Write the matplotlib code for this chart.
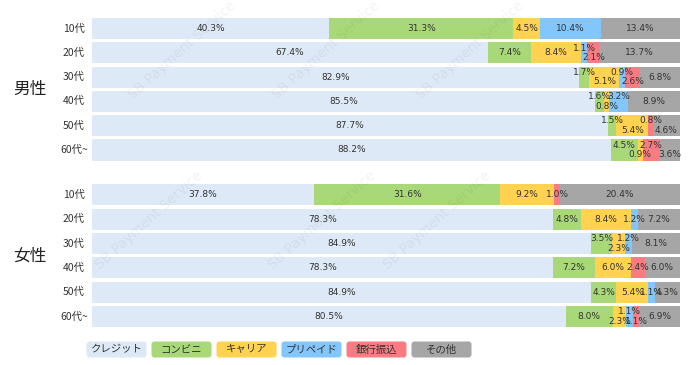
import numpy as np
import matplotlib
matplotlib.use('Agg')
import matplotlib.pyplot as plt
from matplotlib.patches import FancyBboxPatch
from matplotlib.transforms import blended_transform_factory

plt.rcParams['font.family'] = ['Noto Sans CJK JP', 'DejaVu Sans']

######################################
### DATA #############################
######################################
ages = ['10代', '20代', '30代', '40代', '50代', '60代~']
groups = ['男性', '女性']
methods = ['クレジット', 'コンビニ', 'キャリア', 'プリペイド', '銀行振込', 'その他']

# 男性 (%)
male_credit  = [40.3, 67.4, 82.9, 85.5, 87.7, 88.2]
male_conv    = [31.3, 7.4, 1.7, 1.6, 1.5, 4.5]
male_carrier = [4.5, 8.4, 5.1, 0.8, 5.4, 0.9]
male_prepaid = [10.4, 1.1, 0.9, 3.2, 0.0, 0.0]
male_bank    = [0.0, 2.1, 2.6, 0.0, 0.8, 2.7]
male_other   = [13.4, 13.7, 6.8, 8.9, 4.6, 3.6]

# 女性 (%)
female_credit  = [37.8, 78.3, 84.9, 78.3, 84.9, 80.5]
female_conv    = [31.6, 4.8, 3.5, 7.2, 4.3, 8.0]
female_carrier = [9.2, 8.4, 2.3, 6.0, 5.4, 2.3]
female_prepaid = [0.0, 1.2, 1.2, 0.0, 1.1, 1.1]
female_bank    = [1.0, 0.0, 0.0, 2.4, 0.0, 1.1]
female_other   = [20.4, 7.2, 8.1, 6.0, 4.3, 6.9]

# label placement for small segments: c = centre, u = above, d = below
male_lbl = ['cccccc', 'cccudc', 'cududc', 'cuducc', 'cudcud', 'cudcud']
female_lbl = ['cccccc', 'cccccc', 'cuducc', 'cccccc', 'cccccc', 'ccdudc']

colors = ['#dde9f6', '#a9d879', '#ffd34f', '#82c6fb', '#f97c82', '#a6a6a6']
txt_col = '#333333'

male_tbl = np.array([male_credit, male_conv, male_carrier, male_prepaid, male_bank, male_other]).T
female_tbl = np.array([female_credit, female_conv, female_carrier, female_prepaid, female_bank, female_other]).T

######################################
### PLOT #############################
######################################
W, H = 700, 365
fig = plt.figure(figsize=(W / 100, H / 100), dpi=100)

px_unit = 24.3          # pixels per row
y_top = -28.5 / px_unit
ax = fig.add_axes([92 / W, 0, 588 / W, 1])
ax.set_xlim(0, 100)
ax.set_ylim(y_top + H / px_unit, y_top)
ax.axis('off')

female_offset = 6.85
lab_tr = blended_transform_factory(fig.transFigure, ax.transData)

for g, (tbl, lbl, off) in enumerate([(male_tbl, male_lbl, 0.0), (female_tbl, female_lbl, female_offset)]):
    ypos = np.arange(len(ages)) + off
    pct = tbl / tbl.sum(axis=1, keepdims=True) * 100
    left = np.zeros(len(ages))
    for j in range(len(methods)):
        ax.barh(ypos, pct[:, j], left=left, height=0.865, color=colors[j], linewidth=0)
        for i in range(len(ages)):
            v = tbl[i, j]
            if v <= 0:
                continue
            code = lbl[i][j]
            dy = {'c': 0, 'u': 3.4, 'd': -3.4}[code]
            ax.annotate(f'{v:.1f}%', (left[i] + pct[i, j] / 2, ypos[i]), xytext=(0, dy),
                        textcoords='offset points', ha='center', va='center',
                        fontsize=6.5, color=txt_col, family='DejaVu Sans')
        left = left + pct[:, j]
    for i, a in enumerate(ages):
        ax.text(74 / W, ypos[i], a, transform=lab_tr, ha='center', va='center',
                fontsize=7.5, color='#333333')
    ax.text(30 / W, ypos.mean(), groups[g], transform=lab_tr, ha='center', va='center',
            fontsize=12, color='#222222')

# overlay for legend and watermark
ov = fig.add_axes([0, 0, 1, 1])
ov.set_xlim(0, W)
ov.set_ylim(H, 0)
ov.axis('off')
ov.set_zorder(5)

for k, m in enumerate(methods):
    x0 = 86 + 65 * k
    box = FancyBboxPatch((x0 + 2, 343), 57, 13, boxstyle='round,pad=1.5,rounding_size=3',
                         facecolor=colors[k], edgecolor='none')
    ov.add_patch(box)
    ov.text(x0 + 30.5, 349.5, m, ha='center', va='center', fontsize=7.5, color='#333333')

# faint watermark
for ys, xs in [(100, 133), (270, 100), (270, 273)]:
    for k in range(-1, 3):
        x = xs + 144 * 2 * k if ys == 270 else xs + 144 * k
        if x < 0 or x > 560:
            continue
        ov.text(x, ys, 'SB Payment Service', rotation=42, rotation_mode='anchor',
                ha='left', va='baseline', fontsize=10, color='#000000', alpha=0.05,
                family='DejaVu Sans')

fig.savefig('out.png', dpi=100)
